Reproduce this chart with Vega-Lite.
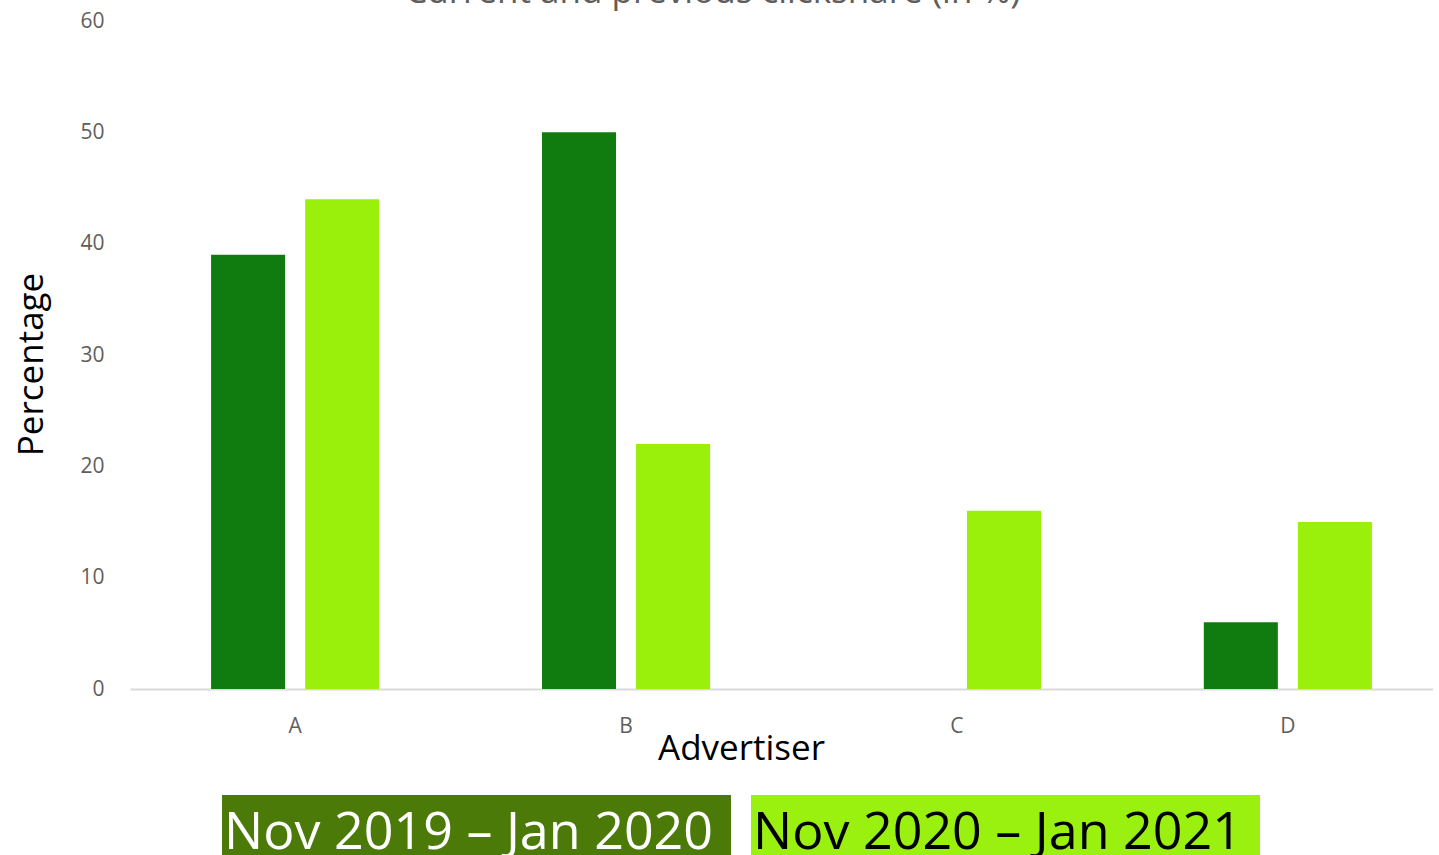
{
  "$schema": "https://vega.github.io/schema/vega-lite/v6.json",
  "padding": {"left": 14, "top": -25, "right": -20, "bottom": 0},
  "background": "white",
  "config": {
    "font": "Open Sans",
    "view": {"stroke": null},
    "concat": {"spacing": 29}
  },
  "title": {
    "text": "Current and previous clickshare (in %)",
    "fontSize": 35,
    "fontWeight": "normal",
    "color": "#605E5C",
    "font": "Open Sans",
    "baseline": "alphabetic",
    "offset": -28,
    "dx": -21,
    "anchor": "middle"
  },
  "datasets": {
    "clickshare": [
      {"advertiser": "A", "period": "Nov 2019 – Jan 2020", "value": 39},
      {"advertiser": "A", "period": "Nov 2020 – Jan 2021", "value": 44},
      {"advertiser": "B", "period": "Nov 2019 – Jan 2020", "value": 50},
      {"advertiser": "B", "period": "Nov 2020 – Jan 2021", "value": 22},
      {"advertiser": "C", "period": "Nov 2019 – Jan 2020", "value": 0},
      {"advertiser": "C", "period": "Nov 2020 – Jan 2021", "value": 16},
      {"advertiser": "D", "period": "Nov 2019 – Jan 2020", "value": 6},
      {"advertiser": "D", "period": "Nov 2020 – Jan 2021", "value": 15}
    ]
  },
  "vconcat": [
    {
      "width": 1323,
      "height": 668,
      "data": {"name": "clickshare"},
      "mark": {"type": "bar"},
      "encoding": {
        "x": {
          "field": "advertiser",
          "type": "nominal",
          "title": "Advertiser",
          "scale": {"paddingInner": 0.492, "paddingOuter": 0.245},
          "axis": {
            "labelAngle": 0,
            "labelFontSize": 21,
            "labelColor": "#605E5C",
            "labelPadding": 26,
            "ticks": false,
            "domainColor": "#D9D9D9",
            "domainWidth": 2,
            "titleFontSize": 35,
            "titleFontWeight": "normal",
            "titleColor": "#000000",
            "titlePadding": -5,
            "titleX": 611,
            "titleAlign": "center",
            "titleAnchor": "start"
          }
        },
        "xOffset": {
          "field": "period",
          "type": "nominal",
          "scale": {"paddingInner": 0.213, "paddingOuter": 0}
        },
        "y": {
          "field": "value",
          "type": "quantitative",
          "title": "Percentage",
          "scale": {"domain": [0, 60]},
          "axis": {
            "values": [0, 10, 20, 30, 40, 50, 60],
            "grid": false,
            "domain": false,
            "ticks": false,
            "labelFontSize": 21,
            "labelColor": "#605E5C",
            "labelPadding": 26,
            "titleFontSize": 35,
            "titleFontWeight": "normal",
            "titleColor": "#000000",
            "titlePadding": 30,
            "titleY": 343,
            "titleAlign": "center"
          }
        },
        "color": {
          "field": "period",
          "type": "nominal",
          "scale": {"range": ["#107C10", "#9BF00B"]},
          "legend": null
        }
      }
    },
    {
      "width": 1222,
      "height": 60,
      "data": {"name": "clickshare"},
      "transform": [
        {"aggregate": [{"op": "count", "as": "n"}], "groupby": ["period"]}
      ],
      "encoding": {
        "x": {
          "field": "period",
          "type": "nominal",
          "scale": {"paddingInner": 0.0378, "paddingOuter": 0.174},
          "axis": null
        }
      },
      "layer": [
        {
          "mark": {"type": "bar"},
          "encoding": {
            "color": {
              "condition": {"test": "datum.period === 'Nov 2019 – Jan 2020'", "value": "#4B7A08"},
              "value": "#9AF00E"
            }
          }
        },
        {
          "mark": {"type": "text", "align": "left", "baseline": "middle", "fontSize": 52, "dx": 2, "dy": 8},
          "encoding": {
            "x": {"field": "period", "type": "nominal", "bandPosition": 0},
            "text": {"field": "period"},
            "color": {
              "condition": {"test": "datum.period === 'Nov 2019 – Jan 2020'", "value": "#FFFFFF"},
              "value": "#000000"
            }
          }
        }
      ]
    }
  ],
  "resolve": {"scale": {"color": "independent", "x": "independent"}}
}
